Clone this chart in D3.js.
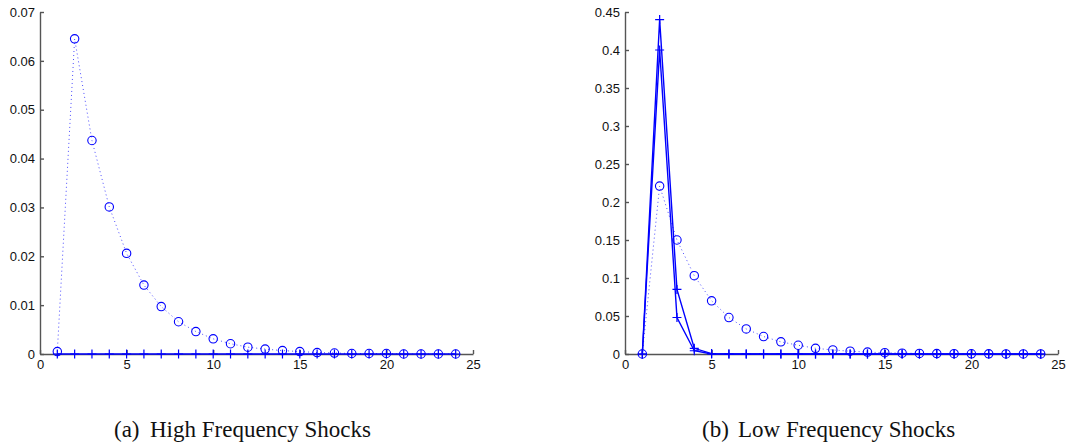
<!DOCTYPE html>
<html>
<head>
    <meta charset="utf-8">
    <style>
        body {
            margin: 0;
            background: white;
        }

        svg {
            display: block;
        }

        .axis text {
            font-family: 'Liberation Sans', Arial, sans-serif;
            font-size: 13px;
            fill: #111;
        }

        .axis path,
        .axis line {
            stroke: #555;
            stroke-width: 1.4;
        }

        .caption {
            font-family: 'Liberation Serif', 'Times New Roman', serif;
            font-size: 23px;
            fill: #111;
        }
    </style>
</head>
<body>
    <svg width="1067" height="446"></svg>

<script src="https://d3js.org/d3.v7.min.js"></script>
<script>
    // lags on the x axis
    let lags = [1, 2, 3, 4, 5, 6, 7, 8, 9, 10, 11, 12, 13, 14, 15, 16, 17, 18, 19, 20, 21, 22, 23, 24]

    // (a) high frequency shocks
    let highCircle = [0.0005, 0.0645, 0.0437, 0.0301, 0.0206, 0.0141, 0.0097, 0.0066, 0.0046, 0.0031, 0.0021, 0.0014,
        0.0010, 0.0007, 0.0005, 0.0003, 0.0002, 0.0001, 0.0001, 0.0001, 0, 0, 0, 0]
    let highPlus = [0, 0, 0, 0, 0, 0, 0, 0, 0, 0, 0, 0, 0, 0, 0, 0, 0, 0, 0, 0, 0, 0, 0, 0]

    // (b) low frequency shocks
    let lowCircle = [0, 0.221, 0.150, 0.103, 0.070, 0.048, 0.033, 0.023, 0.016, 0.0115, 0.0075, 0.0053,
        0.0037, 0.0025, 0.0017, 0.0011, 0.0008, 0.0005, 0.0004, 0.0003, 0.0002, 0.0001, 0.0001, 0.0001]
    let lowPlusA = [0, 0.44, 0.085, 0.0075, 0.0005, 0, 0, 0, 0, 0, 0, 0, 0, 0, 0, 0, 0, 0, 0, 0, 0, 0, 0, 0]
    let lowPlusB = [0, 0.40, 0.048, 0.0043, 0, 0, 0, 0, 0, 0, 0, 0, 0, 0, 0, 0, 0, 0, 0, 0, 0, 0, 0, 0]

    let xTicks = [0, 5, 10, 15, 20, 25]
    let highYTicks = [0, 0.01, 0.02, 0.03, 0.04, 0.05, 0.06, 0.07]
    let lowYTicks = [0, 0.05, 0.1, 0.15, 0.2, 0.25, 0.3, 0.35, 0.4, 0.45]

    let svg = d3.select("svg")
    let blue = "#0000ff"

    function drawPanel(opts) {
        let x = d3.scaleLinear().domain([0, 25]).range([opts.left, opts.left + 433])
        let y = d3.scaleLinear().domain([0, opts.ymax]).range([354, 12])

        let g = svg.append("g")

        g.append("g")
            .attr("class", "axis")
            .attr("transform", "translate(0,354)")
            .call(d3.axisBottom(x).tickValues(xTicks).tickSizeInner(-4).tickSizeOuter(0).tickPadding(6))

        g.append("g")
            .attr("class", "axis")
            .attr("transform", "translate(" + opts.left + ",0)")
            .call(d3.axisLeft(y).tickValues(opts.yTicks).tickSizeInner(-4).tickSizeOuter(0).tickPadding(5)
                .tickFormat(d => String(+d.toFixed(2))))

        let line = d3.line()
            .x((d, i) => x(lags[i]))
            .y(d => y(d))

        // dotted series with circles
        opts.circles.forEach(vals => {
            g.append("path")
                .attr("d", line(vals))
                .style("fill", "none")
                .style("stroke", blue)
                .style("stroke-width", 1)
                .style("stroke-dasharray", "1,3")
                .style("opacity", 0.7)

            g.selectAll(null)
                .data(vals)
                .join("circle")
                .attr("cx", (d, i) => x(lags[i]))
                .attr("cy", d => y(d))
                .attr("r", 4.2)
                .style("fill", "none")
                .style("stroke", blue)
                .style("stroke-width", 1.1)
        })

        // solid series with plus marks
        opts.pluses.forEach(vals => {
            g.append("path")
                .attr("d", line(vals))
                .style("fill", "none")
                .style("stroke", blue)
                .style("stroke-width", 1.4)

            g.selectAll(null)
                .data(vals)
                .join("path")
                .attr("transform", (d, i) => "translate(" + x(lags[i]) + "," + y(d) + ")")
                .attr("d", "M-4.5,0H4.5M0,-4.5V4.5")
                .style("stroke", blue)
                .style("stroke-width", 1.2)
        })

        let cap = svg.append("text")
            .attr("class", "caption")
            .attr("y", 437)
        cap.append("tspan").attr("x", opts.capX).text(opts.tag)
        cap.append("tspan").attr("x", opts.capX + 36).text(opts.title)
    }

    drawPanel({
        left: 40,
        ymax: 0.07,
        yTicks: highYTicks,
        circles: [highCircle],
        pluses: [highPlus],
        capX: 114,
        tag: "(a)",
        title: "High Frequency Shocks"
    })

    drawPanel({
        left: 625,
        ymax: 0.45,
        yTicks: lowYTicks,
        circles: [lowCircle],
        pluses: [lowPlusA, lowPlusB],
        capX: 702,
        tag: "(b)",
        title: "Low Frequency Shocks"
    })
</script>
</body>
</html>
